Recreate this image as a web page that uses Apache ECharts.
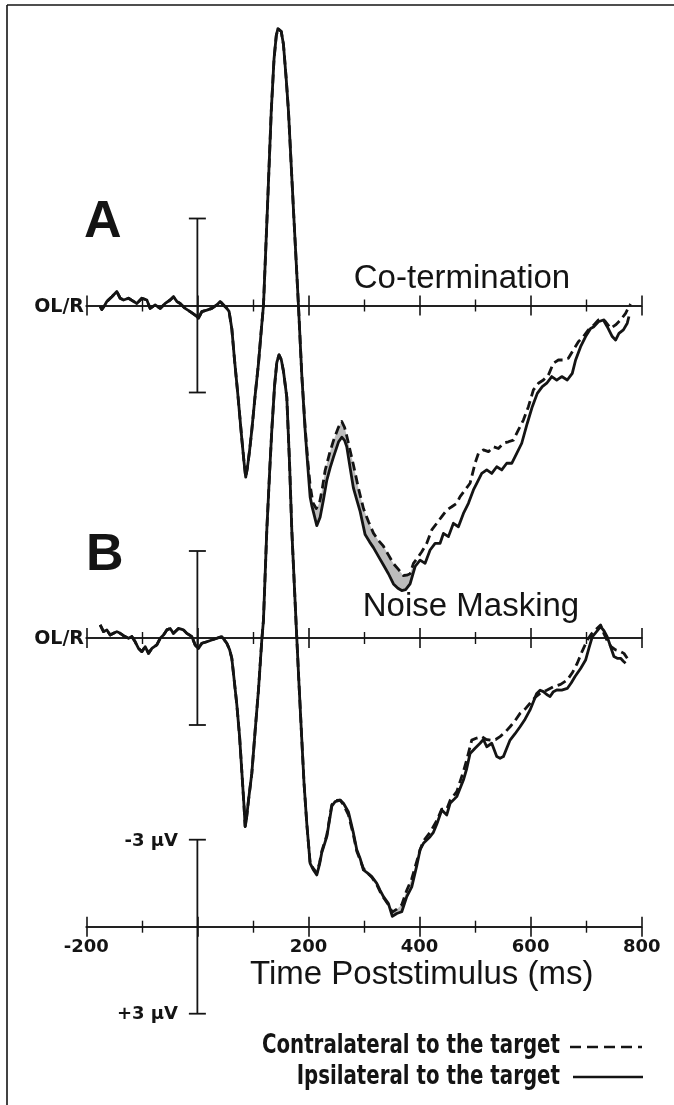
<!DOCTYPE html>
<html><head><meta charset="utf-8">
<script src="https://cdn.jsdelivr.net/npm/echarts/dist/echarts.min.js"></script>
<style>html,body{margin:0;padding:0;background:#fff}#c{width:674px;height:1105px}</style>
</head><body><div id="c"></div><script>
// ---- data: [time (ms), amplitude (µV)], negative plotted upward ----
const earlyA = [[-175,0.03],[-172,0.14],[-167,0.0],[-163,-0.14],[-154,-0.30],[-145,-0.48],[-139,-0.25],[-133,-0.19],[-124,-0.25],[-115,-0.14],[-109,-0.07],[-100,-0.25],[-91,-0.19],[-85,0.10],[-76,-0.02],[-67,0.10],[-58,-0.07],[-49,-0.19],[-43,-0.30],[-37,-0.14],[-31,-0.07],[-22,0.10],[-13,0.21],[-4,0.33],[2,0.44],[8,0.21],[17,0.16],[26,0.10],[35,-0.02],[41,-0.14],[47,-0.02],[53,0.10],[57,0.2],[59,0.44],[62,0.8],[67,1.9],[73,3.1],[80,4.6],[84,5.4],[87,5.92],[90,5.6],[94,5.0],[98,4.3],[104,3.1],[110,2.0],[115,0.86],[119,0],[126,-3.3],[133,-6.7],[138,-8.5],[142,-9.3],[145,-9.55],[148,-9.59],[151,-9.45],[155,-9.0],[160,-7.8],[164,-6.7],[173,-3.3],[182,0]];
const lateIpsiA = [[188,2.4],[194,4.3],[199,5.6],[203,6.6],[206,6.9],[210,7.2],[215,7.59],[221,7.3],[227,6.7],[233,6.03],[239,5.6],[245,5.23],[254,4.71],[260,4.54],[265,4.65],[269,4.87],[275,5.6],[281,6.3],[287,6.7],[293,7.1],[302,7.9],[310,8.15],[317,8.35],[326,8.65],[335,8.95],[344,9.25],[353,9.6],[361,9.75],[368,9.83],[375,9.8],[383,9.6],[392,9.0],[401,8.78],[410,8.89],[419,8.43],[428,8.2],[437,8.2],[443,7.86],[452,7.97],[461,7.51],[470,7.63],[479,7.17],[488,6.82],[497,6.36],[503,6.13],[512,5.79],[521,5.67],[530,5.79],[539,5.56],[548,5.67],[557,5.44],[566,5.44],[575,5.1],[584,4.75],[594,4.06],[603,3.49],[612,3.03],[621,2.8],[629,2.68],[638,2.45],[647,2.57],[656,2.45],[666,2.57],[675,2.34],[681,1.88],[690,1.42],[699,1.07],[708,0.79],[714,0.73],[722,0.56],[731,0.5],[738,0.73],[747,1.07],[753,1.19],[759,0.96],[767,0.84],[774,0.61],[777,0.38]];
const lateContraA = [[188,2.4],[194,4.2],[199,5.4],[203,6.2],[208,6.8],[214,7.0],[220,6.8],[225,6.3],[230,5.69],[238,5.1],[245,4.66],[254,4.2],[260,4.0],[265,4.2],[269,4.5],[275,5.0],[281,5.5],[290,6.3],[299,7.0],[308,7.45],[317,7.85],[326,8.1],[335,8.3],[344,8.6],[353,8.9],[362,9.1],[371,9.31],[377,9.3],[383,9.25],[389,8.89],[398,8.66],[404,8.49],[413,8.2],[422,7.74],[431,7.51],[440,7.28],[449,7.05],[458,6.94],[467,6.82],[473,6.59],[482,6.36],[491,6.13],[500,5.44],[506,5.1],[515,4.98],[524,5.04],[533,4.87],[542,4.93],[551,4.75],[560,4.7],[569,4.64],[578,4.29],[587,3.95],[596,3.49],[605,2.91],[614,2.68],[623,2.57],[632,2.4],[641,1.99],[650,1.88],[659,1.88],[668,1.82],[677,1.53],[686,1.25],[695,1.07],[704,0.84],[714,0.67],[722,0.5],[729,0.44],[735,0.56],[744,0.79],[753,0.67],[762,0.5],[771,0.27],[777,0.04],[780,-0.05]];

const earlyB = [[-175,-0.45],[-169,-0.22],[-163,-0.28],[-157,-0.10],[-151,-0.16],[-145,-0.22],[-139,-0.16],[-133,-0.08],[-124,0.01],[-118,-0.05],[-112,0.13],[-106,0.36],[-100,0.47],[-94,0.30],[-88,0.53],[-82,0.36],[-73,0.24],[-67,0.01],[-61,-0.10],[-55,-0.28],[-49,-0.33],[-43,-0.16],[-34,-0.33],[-25,-0.28],[-19,-0.16],[-10,-0.05],[-4,0.24],[2,0.36],[8,0.18],[17,0.13],[26,0.07],[35,0.01],[44,-0.05],[53,0.18],[58,0.4],[62,0.7],[66,1.4],[71,2.3],[76,3.4],[80,4.6],[84,5.8],[86,6.5],[88,6.3],[92,5.6],[98,4.67],[104,3.2],[110,1.79],[116,0.07],[119,-0.62],[125,-3.72],[130,-5.7],[134,-7.17],[139,-8.7],[143,-9.5],[147,-9.76],[151,-9.6],[155,-9.2],[161,-8.3],[166,-6.0],[170,-3.72],[178,-0.4],[183,1.6],[188,3.5],[192,5.0],[197,6.4],[203,7.77]];
const lateIpsiB = [[209,8.0],[215,8.17],[220,7.8],[224,7.4],[233,6.85],[242,5.8],[248,5.64],[257,5.59],[263,5.7],[272,6.0],[281,6.73],[287,7.3],[293,7.6],[299,8.0],[306,8.1],[314,8.23],[323,8.46],[329,8.7],[335,8.92],[344,9.16],[351,9.6],[359,9.5],[368,9.44],[377,8.92],[386,8.58],[395,7.85],[401,7.3],[407,7.08],[419,6.85],[425,6.7],[431,6.42],[440,5.93],[449,6.1],[455,5.7],[467,5.47],[479,4.9],[485,4.5],[491,3.98],[500,3.8],[509,3.63],[515,3.5],[521,3.75],[530,3.63],[539,4.09],[545,4.15],[551,4.09],[557,3.8],[563,3.52],[572,3.3],[581,3.06],[590,2.8],[599,2.48],[605,2.2],[611,1.91],[617,1.8],[623,1.85],[629,1.95],[635,2.02],[641,1.85],[647,1.79],[656,1.8],[666,1.74],[673,1.55],[680,1.33],[690,1.05],[699,0.76],[705,0.35],[711,-0.04],[718,-0.2],[726,-0.39],[732,-0.25],[738,-0.04],[744,0.3],[750,0.64],[756,0.7],[762,0.7],[767,0.8],[771,0.87]];
const lateContraB = [[209,7.95],[215,8.1],[220,7.75],[224,7.35],[233,6.8],[242,5.75],[248,5.6],[257,5.59],[263,5.75],[272,6.1],[281,6.8],[287,7.35],[293,7.65],[299,7.95],[306,8.1],[314,8.25],[323,8.5],[329,8.75],[335,8.95],[344,9.2],[351,9.45],[359,9.35],[368,9.2],[377,8.7],[386,8.3],[395,7.7],[401,7.3],[407,7.0],[419,6.7],[425,6.5],[431,6.3],[440,5.9],[449,5.9],[455,5.6],[467,5.3],[479,4.6],[485,4.2],[494,3.52],[503,3.45],[512,3.4],[520,3.5],[528,3.52],[537,3.5],[545,3.4],[554,3.25],[563,3.06],[572,2.85],[581,2.6],[590,2.45],[599,2.25],[608,2.05],[617,1.91],[629,1.8],[641,1.68],[654,1.6],[666,1.45],[675,1.2],[684,0.87],[693,0.45],[702,0.07],[710,-0.15],[717,-0.28],[726,-0.45],[732,-0.15],[738,0.1],[745,0.3],[753,0.41],[760,0.45],[768,0.53],[774,0.7]];

const scaleBar = [-3, 3];            // µV
const shadeWindow = [190, 392];      // ms
const tickLabels = [-200, 200, 400, 600, 800];

const ipsiA = earlyA.concat(lateIpsiA);
const contraA = earlyA.concat(lateContraA);
const ipsiB = earlyB.concat(lateIpsiB);
const contraB = earlyB.concat(lateContraB);

// ---- chart ----
const chart = echarts.init(document.getElementById('c'), null, {renderer: 'canvas'});
const INK = '#141414';
const PXUV = 29;
const L = 86.3, W = 555.4;
const base0 = [305.5, 638, 926.7];
const gOpt = {outerBoundsMode: 'none', containLabel: false};
const grids = [
  Object.assign({left: L, width: W, top: base0[0] - 10 * PXUV, height: 22 * PXUV}, gOpt),
  Object.assign({left: L, width: W, top: base0[1] - 10 * PXUV, height: 22 * PXUV}, gOpt),
  Object.assign({left: L, width: W, top: base0[2] - 4 * PXUV, height: 4 * PXUV}, gOpt)
];
const yAxes = [
  {type: 'value', gridIndex: 0, min: -10, max: 12, inverse: true, show: false},
  {type: 'value', gridIndex: 1, min: -10, max: 12, inverse: true, show: false},
  {type: 'value', gridIndex: 2, min: -4, max: 0, inverse: true, show: false}
];
function xAxis(g, inside, labels, onZero) {
  return {
    type: 'value', gridIndex: g, position: 'bottom', min: -200, max: 800, interval: 200,
    splitLine: {show: false},
    axisLine: onZero ? {show: true, onZero: true, onZeroAxisIndex: g, lineStyle: {color: INK, width: 1.6}}
                     : {show: true, onZero: false, lineStyle: {color: INK, width: 1.6}},
    axisTick: {show: true, inside: inside, length: 10, lineStyle: {color: INK, width: 1.6}},
    minorTick: {show: true, splitNumber: 2, length: 6, lineStyle: {color: INK, width: 1.4}},
    axisLabel: labels ? {
      show: true, margin: 12, color: INK, fontFamily: 'DejaVu Sans', fontWeight: 'bold', fontSize: 18,
      showMinLabel: true, showMaxLabel: true, hideOverlap: false,
      formatter: v => tickLabels.indexOf(v) >= 0 ? String(v) : ''
    } : {show: false}
  };
}
const xAxes = [xAxis(0, false, false, true), xAxis(0, true, false, true),
               xAxis(1, false, false, true), xAxis(1, true, false, true),
               xAxis(2, false, true, false),  xAxis(2, true, false, false)];

function shadeSeries(g, contra, ipsi) {
  const c = contra.filter(p => p[0] >= shadeWindow[0] && p[0] <= shadeWindow[1]);
  const i = ipsi.filter(p => p[0] >= shadeWindow[0] && p[0] <= shadeWindow[1]).reverse();
  const pts = c.concat(i);
  return {
    type: 'custom', xAxisIndex: 2 * g, yAxisIndex: g, silent: true, z: 1, data: [[0, 0]],
    renderItem: (params, api) => ({
      type: 'polygon', shape: {points: pts.map(p => api.coord(p))},
      style: {fill: '#bdbdbd', stroke: null}
    })
  };
}
function barSeries(g) {
  return {
    type: 'custom', xAxisIndex: 2 * g, yAxisIndex: g, silent: true, z: 3, data: [[0, 0]], clip: false,
    renderItem: (params, api) => {
      const a = api.coord([0, scaleBar[0]]), b = api.coord([0, scaleBar[1]]);
      const st = {stroke: INK, lineWidth: 1.8};
      return {type: 'group', children: [
        {type: 'line', shape: {x1: a[0], y1: a[1], x2: b[0], y2: b[1]}, style: st},
        {type: 'line', shape: {x1: a[0] - 8.5, y1: a[1], x2: a[0] + 8.5, y2: a[1]}, style: st},
        {type: 'line', shape: {x1: b[0] - 8.5, y1: b[1], x2: b[0] + 8.5, y2: b[1]}, style: st}
      ]};
    }
  };
}
function waveSeries(g, data, dashed) {
  return {
    type: 'line', xAxisIndex: 2 * g, yAxisIndex: g, data: data, showSymbol: false, symbol: 'none',
    silent: true, z: 4, clip: false,
    lineStyle: {color: INK, width: 2.8, type: dashed ? [9, 5] : 'solid', join: 'round'}
  };
}

const txt = (x, y, text, font, align, extra) => Object.assign({
  type: 'text', x: x, y: y, silent: true,
  style: {text: text, font: font, fill: INK, align: align, verticalAlign: 'middle',
          textAlign: align, textVerticalAlign: 'middle'}
}, extra || {});
const legendFont = 'bold 22px "Liberation Sans Narrow", "DejaVu Sans Condensed", sans-serif';

const option = {
  animation: false,
  backgroundColor: '#ffffff',
  grid: grids, xAxis: xAxes, yAxis: yAxes,
  series: [
    shadeSeries(0, contraA, ipsiA), shadeSeries(1, contraB, ipsiB),
    barSeries(0), barSeries(1), barSeries(2),
    waveSeries(0, ipsiA, false), waveSeries(0, contraA, true),
    waveSeries(1, ipsiB, false), waveSeries(1, contraB, true)
  ],
  graphic: [
    {type: 'line', silent: true, shape: {x1: 7, y1: 5, x2: 674, y2: 5}, style: {stroke: INK, lineWidth: 1.6}},
    {type: 'line', silent: true, shape: {x1: 7, y1: 5, x2: 7, y2: 1105}, style: {stroke: INK, lineWidth: 1.6}},
    txt(84, 223, 'A', 'bold 52px "Liberation Sans", Arial, sans-serif', 'left'),
    txt(86, 556, 'B', 'bold 52px "Liberation Sans", Arial, sans-serif', 'left'),
    txt(84, 307, 'OL/R', 'bold 19px "DejaVu Sans", sans-serif', 'right'),
    txt(84, 639, 'OL/R', 'bold 19px "DejaVu Sans", sans-serif', 'right'),
    txt(462, 279, 'Co-termination', '33px "Liberation Sans", Arial, sans-serif', 'center'),
    txt(471, 607, 'Noise Masking', '33px "Liberation Sans", Arial, sans-serif', 'center'),
    txt(178, 841, '-3 \u03bcV', 'bold 18px "DejaVu Sans", sans-serif', 'right'),
    txt(178, 1014, '+3 \u03bcV', 'bold 18px "DejaVu Sans", sans-serif', 'right'),
    txt(250, 975, 'Time Poststimulus (ms)', '33px "Liberation Sans", Arial, sans-serif', 'left'),
    txt(560, 1046, 'Contralateral to the target', legendFont, 'right', {scaleY: 1.22}),
    txt(560, 1077, 'Ipsilateral to the target', legendFont, 'right', {scaleY: 1.22}),
    {type: 'line', silent: true, shape: {x1: 570, y1: 1047, x2: 642, y2: 1047}, style: {stroke: INK, lineWidth: 2.5, lineDash: [11, 6]}},
    {type: 'line', silent: true, shape: {x1: 573, y1: 1077, x2: 643, y2: 1077}, style: {stroke: INK, lineWidth: 2.5}}
  ]
};
chart.setOption(option);
</script></body></html>
